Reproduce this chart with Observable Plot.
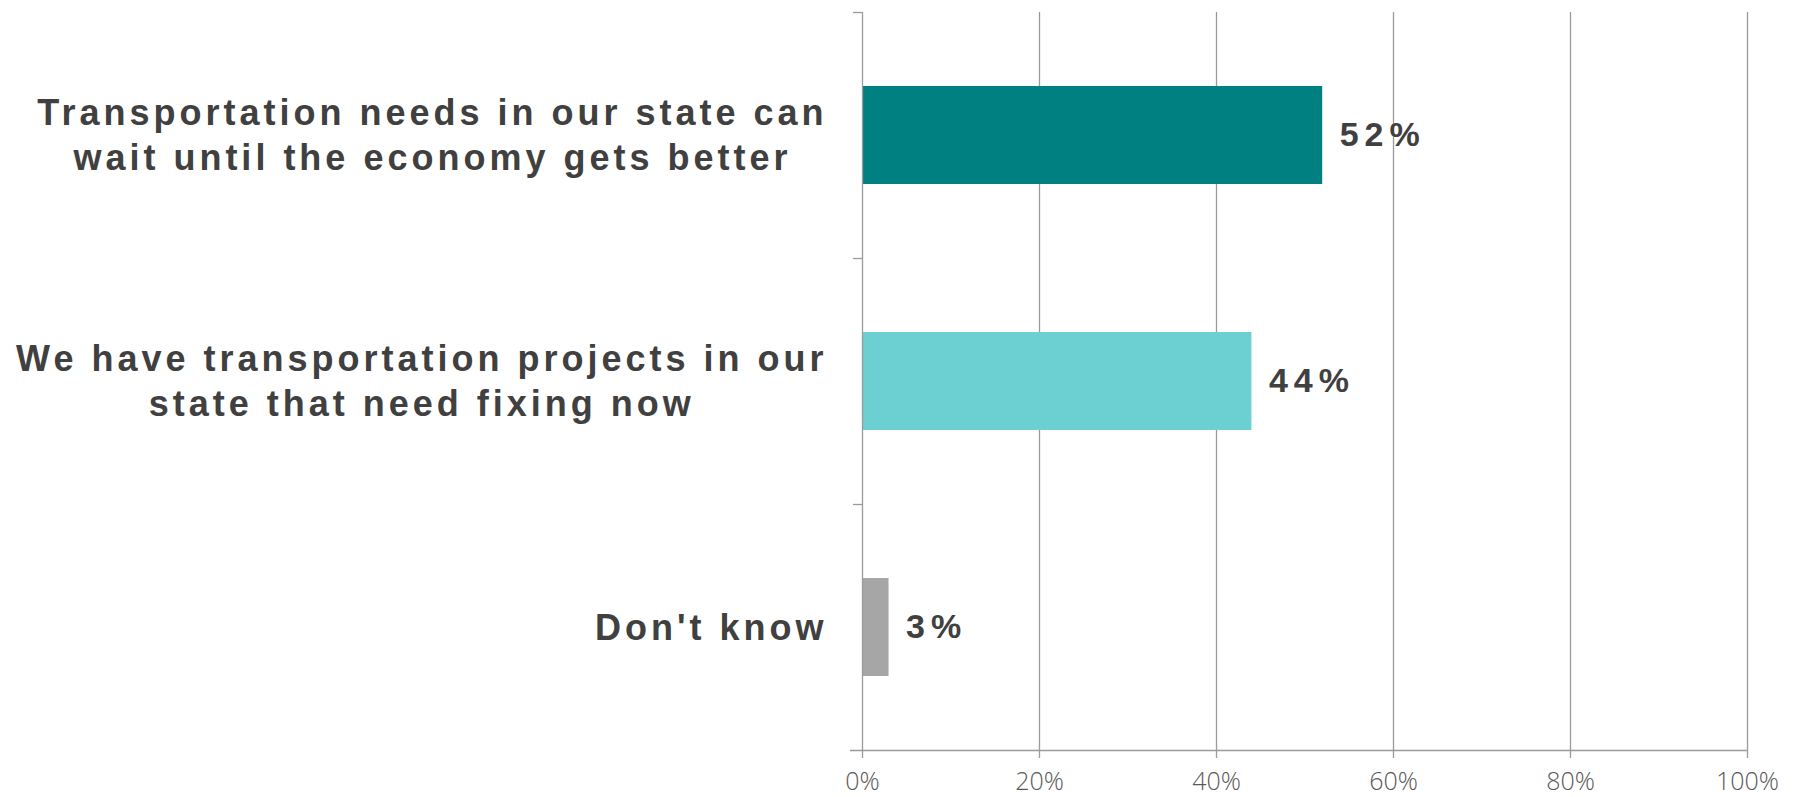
<!DOCTYPE html>
<html>
<head>
<meta charset="utf-8">
<script src="https://cdn.jsdelivr.net/npm/d3@7"></script>
<script src="https://cdn.jsdelivr.net/npm/@observablehq/plot@0.6"></script>
<style>
  html, body { margin: 0; padding: 0; background: #fff; }
  #chart svg { display: block; }
</style>
</head>
<body>
<div id="chart"></div>
<script>
// ---- data ----
const categories = [
  "Transportation needs in our state can\nwait until the economy gets better",
  "We have transportation projects in our\nstate that need fixing now",
  "Don't know"
];
const values = [0.52, 0.44, 0.03];
const barColors = ["#008080", "#6CCFD1", "#A6A6A6"];
const valueLabels = ["52%", "44%", "3%"];
const xTicks = [0, 0.2, 0.4, 0.6, 0.8, 1];

const data = categories.map((c, i) => ({category: c, value: values[i], color: barColors[i], label: valueLabels[i]}));

// ---- layout ----
const width = 1806, height = 797;
const marginLeft = 862, marginRight = 59, marginTop = 12, marginBottom = 47;
const padInner = 0.6, padOuter = 0.3;
const plotW = width - marginLeft - marginRight;
const plotH = height - marginTop - marginBottom;
const step = plotH / (categories.length - padInner + 2 * padOuter);

const gridColor = "#9A9A9A";
const textColor = "#404040";
const labelFont = "'Liberation Sans', Arial, sans-serif";
const labelSize = 36, labelSpacing = 4;
const valueSize = 34, valueSpacing = 6;

// measure widest line of each category label
const ctx = document.createElement("canvas").getContext("2d");
ctx.font = `bold ${labelSize}px ${labelFont}`;
function lineWidth(s) { return ctx.measureText(s).width + labelSpacing * (s.length - 1); }
const labelOffset = c => -(37 + d3.max(c.split("\n"), lineWidth) / 2);

const px = p => p / plotW; // pixel length in x data units

const chart = Plot.plot({
  width, height, marginLeft, marginRight, marginTop, marginBottom,
  style: {background: "#fff", overflow: "visible"},
  x: {domain: [0, 1], axis: null},
  y: {domain: categories, padding: padInner, paddingOuter: padOuter, axis: null},
  color: {type: "identity"},
  marks: [
    // vertical grid lines
    Plot.ruleX(xTicks.slice(1), {stroke: gridColor, strokeWidth: 1.3}),
    // bars
    Plot.barX(data, {y: "category", x: "value", fill: "color"}),
    // y axis line
    Plot.ruleX([0], {stroke: gridColor, strokeWidth: 1.3}),
    // category boundary ticks
    Plot.ruleY(categories, {y: d => d, dy: -step / 2, x1: -px(9), x2: 0, stroke: gridColor, strokeWidth: 1.3}),
    // x axis line (bottom boundary)
    Plot.ruleY(categories.slice(-1), {y: d => d, dy: step / 2, x1: -px(12), x2: 1, stroke: gridColor, strokeWidth: 1.3}),
    // x axis ticks and labels
    Plot.axisX(xTicks, {
      anchor: "bottom", tickSize: 8, tickPadding: 13.5, stroke: gridColor, strokeWidth: 1.3,
      tickFormat: d3.format(".0%"), fontSize: 25, fill: "#595959",
      fontFamily: "'Open Sans', sans-serif", fontWeight: 300, label: null
    }),
    // category labels (one mark per category so each can be centred on its own block)
    ...data.map(d => Plot.text([d], {
      y: "category", x: 0, text: "category", dx: labelOffset(d.category), dy: -2, textAnchor: "middle",
      lineHeight: 1.25, fontSize: labelSize, fontWeight: "bold", fill: textColor,
      fontFamily: labelFont
    })),
    // value labels
    Plot.text(data, {
      y: "category", x: "value", text: "label", dx: 17, textAnchor: "start",
      fontSize: valueSize, fontWeight: "bold", fill: textColor, fontFamily: labelFont
    })
  ]
});

d3.select(chart).selectAll(`g[font-size="${labelSize}"] text`).style("letter-spacing", labelSpacing + "px");
d3.select(chart).selectAll(`g[font-size="${valueSize}"] text`).style("letter-spacing", valueSpacing + "px");
document.getElementById("chart").append(chart);
</script>
</body>
</html>
